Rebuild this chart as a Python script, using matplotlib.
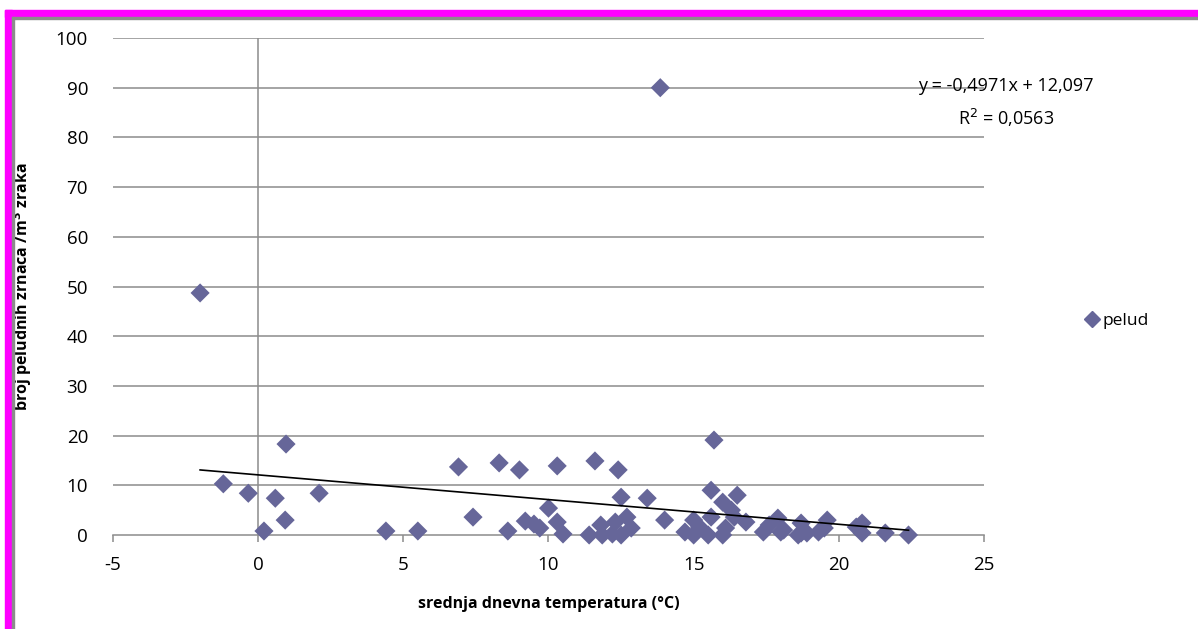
import matplotlib
matplotlib.use("Agg")
import matplotlib.pyplot as plt
from matplotlib.patches import Rectangle
from matplotlib.lines import Line2D
import numpy as np

plt.rcParams['font.family'] = ['Open Sans', 'DejaVu Sans']

# mean daily temperature (°C)
temp = [-2.0, -1.2, -0.34, 0.2, 0.59, 0.96, 0.93, 2.1, 4.4, 5.5,
        6.9, 7.4, 8.3, 8.6, 9.0, 9.2, 9.5, 9.7, 10.0, 10.3,
        10.3, 10.5, 11.4, 11.6, 11.8, 11.85, 12.2, 12.3, 12.4, 12.5,
        12.5, 12.7, 12.85, 13.4, 13.85, 14.0, 14.7, 15.0, 15.0, 15.2,
        15.5, 15.6, 15.6, 15.7, 16.0, 16.0, 16.1, 16.3, 16.4, 16.5,
        16.8, 17.4, 17.6, 17.9, 18.0, 18.1, 18.6, 18.7, 18.7, 18.9,
        19.3, 19.5, 19.6, 20.6, 20.8, 20.8, 21.6, 22.4]
# pollen grains per m3 of air
pollen = [48.7, 10.3, 8.4, 0.8, 7.4, 18.3, 3.0, 8.4, 0.8, 0.8,
          13.7, 3.6, 14.5, 0.8, 13.1, 2.8, 2.2, 1.4, 5.4, 13.9,
          2.6, 0.2, 0.0, 14.9, 2.0, 0.0, 0.2, 2.6, 13.1, 7.6,
          0.0, 3.6, 1.4, 7.4, 90.0, 3.0, 0.6, 3.0, 0.0, 1.6,
          0.0, 9.0, 3.6, 19.1, 6.6, 0.0, 1.4, 5.0, 3.6, 8.0,
          2.6, 0.6, 2.0, 3.4, 0.6, 1.0, 0.0, 2.4, 0.4, 0.4,
          0.6, 1.4, 3.0, 1.6, 2.4, 0.4, 0.4, 0.0]

slope = -0.4971
intercept = 12.097
r2 = 0.0563

x_ticks = [-5, 0, 5, 10, 15, 20, 25]
y_ticks = [0, 10, 20, 30, 40, 50, 60, 70, 80, 90, 100]

W, H = 1198, 629
fig = plt.figure(figsize=(W / 100, H / 100), dpi=100)
ax = fig.add_axes([113 / W, 1 - 535 / H, (984 - 113) / W, (535 - 38) / H])

grid_c = '#8c8c8c'
ax.set_xlim(-5, 25)
ax.set_ylim(0, 100)
for yv in y_ticks[1:]:
    ax.axhline(yv, color=grid_c, lw=1.1, zorder=1)
ax.axvline(0, color=grid_c, lw=1.1, zorder=1)

for s in ['top', 'right', 'left']:
    ax.spines[s].set_visible(False)
ax.spines['bottom'].set_color(grid_c)
ax.spines['bottom'].set_linewidth(1.1)

ax.set_xticks(x_ticks)
ax.set_yticks(y_ticks)
ax.tick_params(axis='x', colors='black', length=5, width=1.1, color=grid_c,
               labelsize=13.5, pad=10)
ax.tick_params(axis='y', length=0, labelsize=13.5, pad=18)
ax.set_xticklabels([str(v) for v in x_ticks])

ax.scatter(temp, pollen, marker='D', s=95, color='#666699', edgecolors='none',
           zorder=3, clip_on=False)

xl = np.array([min(temp), max(temp)])
ax.plot(xl, slope * xl + intercept, color='black', lw=1.2, zorder=4)

ax.set_xlabel('srednja dnevna temperatura (°C)', fontsize=11.5, fontweight='bold',
              labelpad=16)
ax.set_ylabel('broj peludnih zrnaca /m$^{\\mathbf{3}}$ zraka', fontsize=11.5,
              fontweight='bold', labelpad=16)

fig.text(1006 / W, 1 - 86 / H, f'y = {slope:.4f}x + {intercept:.3f}'.replace('.', ','),
         fontsize=13, ha='center', va='center')
fig.text(1006 / W, 1 - 118 / H, f'R$^2$ = {r2:.4f}'.replace('.', ','), fontsize=13,
         ha='center', va='center')

handle = Line2D([], [], marker='D', color='#666699', linestyle='none',
                markersize=8)
fig.legend([handle], ['pelud'], loc='center left',
           bbox_to_anchor=(1075 / W, 1 - 321 / H), frameon=False,
           fontsize=12.5, handletextpad=0.1, handlelength=1.0, borderpad=0)

# magenta frame
fig.patches.append(Rectangle((5 / W, 1 - 17 / H), 1 - 5 / W, 7 / H,
                             transform=fig.transFigure, color='#ff00ff', zorder=0))
fig.patches.append(Rectangle((5 / W, 0), 7 / W, 1 - 10 / H,
                             transform=fig.transFigure, color='#ff00ff', zorder=0))
fig.patches.append(Rectangle((12 / W, 0), 1.5 / W, 1 - 17 / H,
                             transform=fig.transFigure, color='#8c8c8c', zorder=0))
fig.patches.append(Rectangle((12 / W, 1 - 18.5 / H), 1 - 12 / W, 1.5 / H,
                             transform=fig.transFigure, color='#8c8c8c', zorder=0))

fig.savefig('out.png', dpi=100)
